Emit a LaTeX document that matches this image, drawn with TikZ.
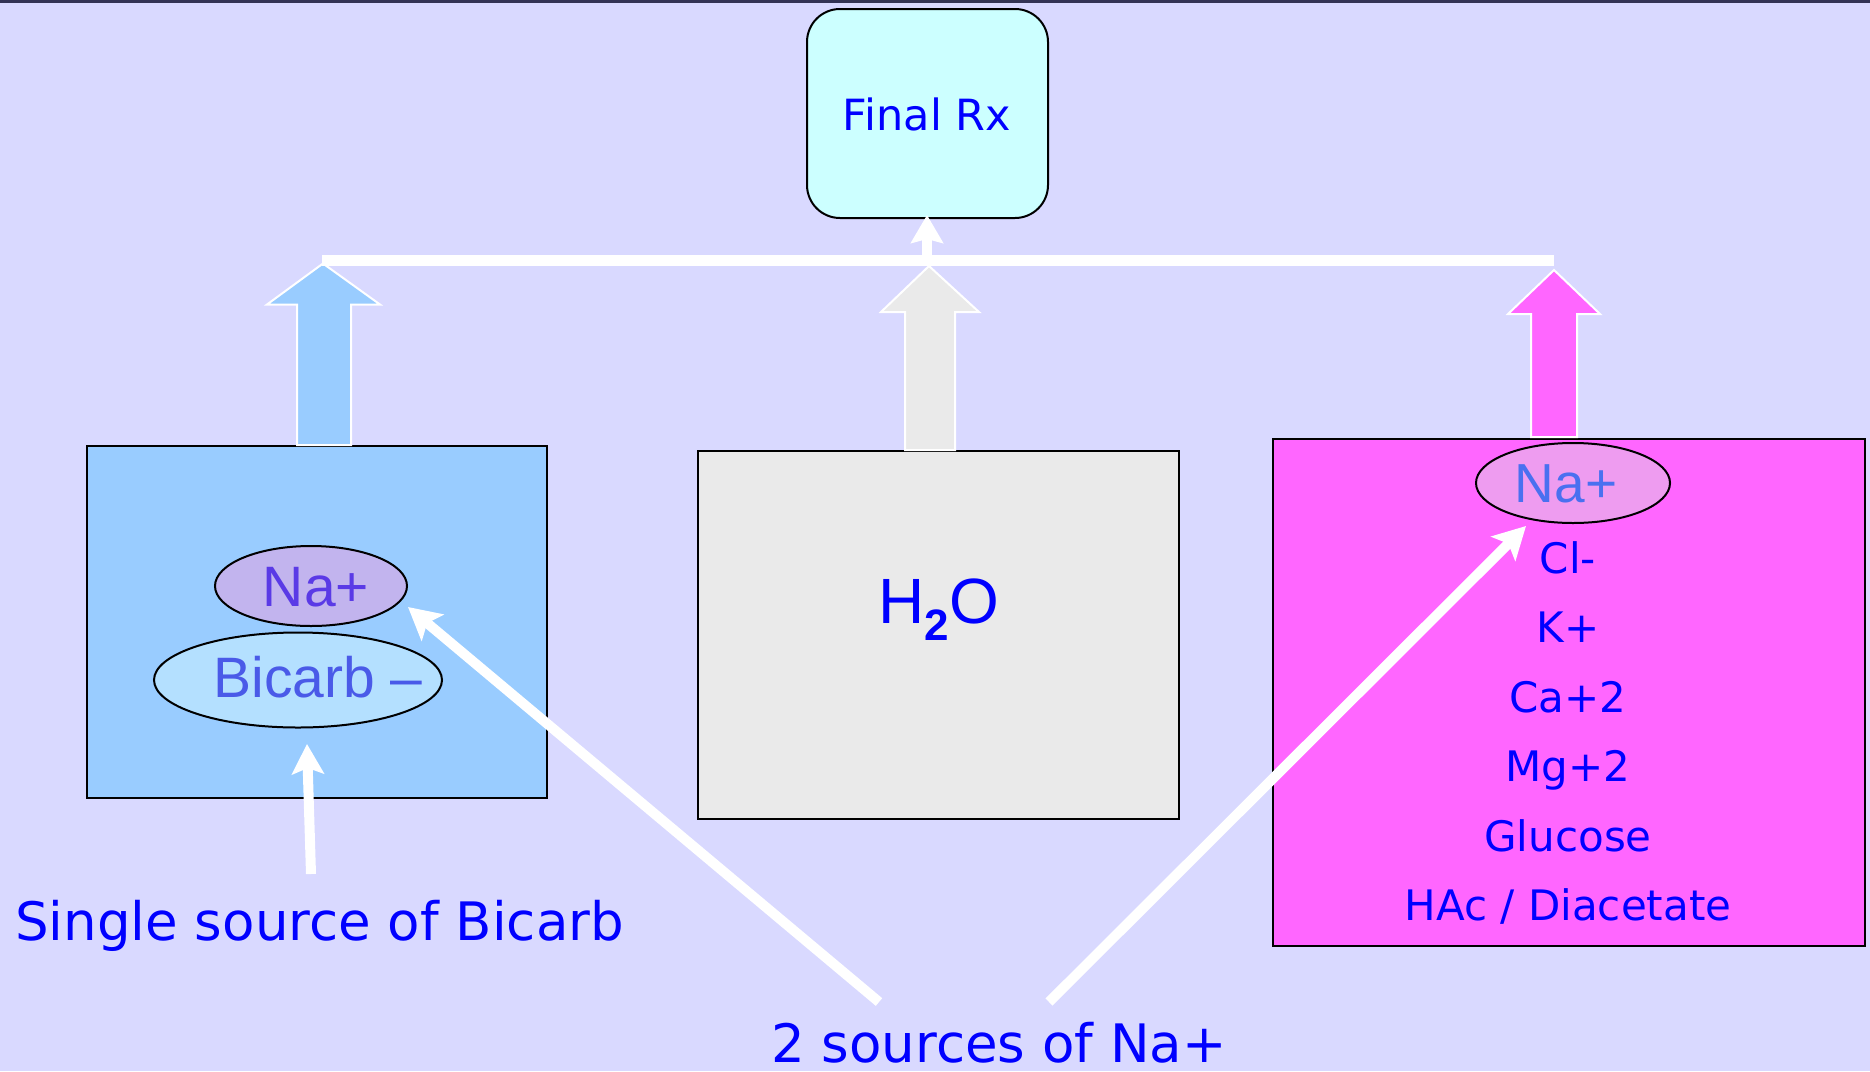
\documentclass[tikz,border=0pt]{standalone}
\usepackage{fontspec}
\setmainfont{DejaVu Sans}
\newfontfamily\arialf{Liberation Sans}
\usetikzlibrary{arrows.meta,shapes.geometric}
\definecolor{bg}{HTML}{D9D9FF}
\definecolor{topline}{HTML}{333355}
\definecolor{rxfill}{HTML}{CCFFFF}
\definecolor{bluefill}{HTML}{99CCFF}
\definecolor{grayfill}{HTML}{EAEAEA}
\definecolor{pinkfill}{HTML}{FF66FF}
\definecolor{txtblue}{HTML}{0000FF}
\definecolor{naLfill}{HTML}{C2B4EE}
\definecolor{naLtxt}{HTML}{5A3AE6}
\definecolor{bicfill}{HTML}{B4E0FF}
\definecolor{bictxt}{HTML}{4A5AE8}
\definecolor{naRfill}{HTML}{EE9CF0}
\definecolor{naRtxt}{HTML}{4A70F0}
\tikzset{
  panel/.style={draw=black, line width=2pt, inner sep=0pt},
  ion/.style={ellipse, draw=black, line width=2pt, inner sep=0pt},
  lbl/.style={inner sep=0pt, text=txtblue, anchor=base},
  blockarrow/.style={draw=white, line width=2pt, line join=miter},
  whitearrow/.style={draw=white, line width=10pt, -{Stealth[length=32pt,width=34pt,inset=7pt]}},
}
\begin{document}
\begin{tikzpicture}[x=1pt,y=-1pt]
\fill[bg] (0,0) rectangle (1870,1071);
\useasboundingbox (0,0) rectangle (1870,1071);
\fill[topline] (0,0) rectangle (1870,2.5);

% Final Rx
\node[panel, fill=rxfill, rounded corners=33pt, minimum width=241pt, minimum height=209pt] (rx) at (927.5,113.5) {};
\node[lbl, font=\fontsize{43}{43}\selectfont] (rxt) at (927,130) {Final Rx};

% boxes
\node[panel, fill=bluefill, minimum width=460pt, minimum height=352pt] (boxL) at (317,622) {};
\node[panel, fill=grayfill, minimum width=481pt, minimum height=368pt] (boxM) at (938.5,635) {};
\node[panel, fill=pinkfill, minimum width=592pt, minimum height=507pt] (boxR) at (1569,692.5) {};

% block arrows
\draw[blockarrow, fill=bluefill] (297,445) -- (297,304.5) -- (267,304.5) -- (323,263.5) -- (380,304.5) -- (351,304.5) -- (351,445) -- cycle;
\draw[blockarrow, fill=grayfill] (905,450) -- (905,312) -- (881,312) -- (929,266) -- (979,312) -- (955,312) -- (955,450) -- cycle;
\draw[blockarrow, fill=pinkfill] (1531,437) -- (1531,314) -- (1508,314) -- (1554,270) -- (1600,314) -- (1577,314) -- (1577,437) -- cycle;

% bar
\coordinate (barL) at (322,260.5);
\coordinate (barR) at (1554,260.5);
\coordinate (barM) at (927,262);
\coordinate (rxin) at (927,215);
\draw[white, line width=11pt] (barL) -- (barR);
\draw[white, line width=10pt, -{Stealth[length=28pt,width=32pt,inset=4pt]}] (barM) -- (rxin);

% left ellipses
\node[ion, fill=naLfill, minimum width=192pt, minimum height=80pt] (naL) at (311,586) {};
\node[lbl, text=naLtxt, font=\arialf\fontsize{57}{57}\selectfont] (naLt) at (316,606) {Na+};
\node[ion, fill=bicfill, minimum width=288pt, minimum height=95pt] (bic) at (298,680) {};
\node[lbl, text=bictxt, font=\arialf\fontsize{57}{57}\selectfont] (bict) at (318,697) {Bicarb –};

% right ellipse
\node[ion, fill=naRfill, minimum width=194pt, minimum height=80pt] (naR) at (1573,483) {};
\node[lbl, text=naRtxt, font=\arialf\fontsize{55}{55}\selectfont] (naRt) at (1566,502) {Na+};

% right list
\begin{scope}[every node/.style={lbl, font=\fontsize{42}{42}\selectfont}]
\node (cl) at (1568,573) {Cl-};
\node (k) at (1568,642.5) {K+};
\node (ca) at (1568,712) {Ca+2};
\node (mg) at (1568,781) {Mg+2};
\node (glu) at (1568,851) {Glucose};
\node (hac) at (1568,920) {HAc / Diacetate};
\end{scope}

% H2O
\node[lbl, font=\arialf\fontsize{64}{64}\selectfont] (h2o) at (939,623) {H\raisebox{-17pt}{\fontsize{44}{44}\selectfont\bfseries 2}O};

% labels
\node[lbl, anchor=base west, font=\fontsize{53}{53}\selectfont] (single) at (15,940) {Single source of Bicarb};
\node[lbl, font=\fontsize{53}{53}\selectfont] (two) at (999,1062) {2 sources of Na+};

% white arrows
\coordinate (bicS) at (311,874);
\coordinate (bicT) at (307,744);
\coordinate (a1S) at (879,1002);
\coordinate (a1T) at (408,607);
\coordinate (a2S) at (1049,1002);
\coordinate (a2T) at (1526,526);
\draw[white, line width=10pt, -{Stealth[length=30pt,width=32pt,inset=6pt]}] (bicS) -- (bicT);
\draw[whitearrow] (a1S) -- (a1T);
\draw[whitearrow] (a2S) -- (a2T);
\end{tikzpicture}
\end{document}
